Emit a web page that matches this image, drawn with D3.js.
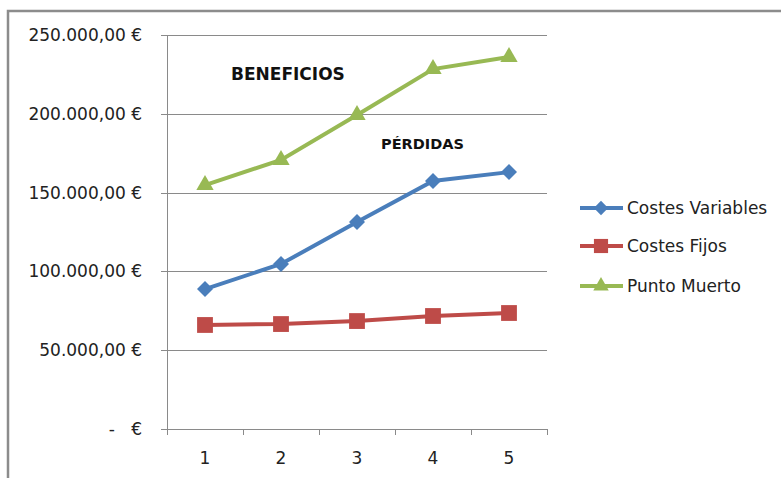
<!DOCTYPE html>
<html>
<head>
<meta charset="utf-8">
<script src="https://cdn.jsdelivr.net/npm/d3@7"></script>
<style>
  body { margin: 0; background: #fff; }
  svg { display: block; }
  text { white-space: pre; }
</style>
</head>
<body>
<svg></svg>
<script>
var periods = [1, 2, 3, 4, 5];
var costesVariables = [88800, 104700, 131300, 157400, 163000];
var costesFijos = [66000, 66600, 68500, 71700, 73600];
var puntoMuerto = [154800, 170700, 199200, 228400, 236000];
var yTicks = [0, 50000, 100000, 150000, 200000, 250000];

var svgWidth = 781,
    svgHeight = 478;

var plot = {left: 167, right: 547, top: 35, bottom: 429};

var svg = d3.select("svg")
    .attr("width", svgWidth)
    .attr("height", svgHeight);

var font = "DejaVu Sans, sans-serif";

// outer frame (only top and left show)
svg.append("path")
    .attr("d", "M8,478 V11 H781")
    .attr("fill", "none")
    .attr("stroke", "#8c8c8c")
    .attr("stroke-width", 2.5);

var xScale = d3.scaleBand()
    .domain(periods)
    .range([plot.left, plot.right]);

var yScale = d3.scaleLinear()
    .domain([0, 250000])
    .range([plot.bottom, plot.top]);

function euro(v) {
    if (v === 0) return "-   €";
    return d3.format(",.2f")(v).replace(/,/g, "#").replace(".", ",").replace(/#/g, ".") + " €";
}

// gridlines
svg.append("g")
    .selectAll("line")
    .data(yTicks)
    .enter()
    .append("line")
    .attr("x1", plot.left - 6)
    .attr("x2", plot.right)
    .attr("y1", function (d) { return Math.round(yScale(d)) + 0.5; })
    .attr("y2", function (d) { return Math.round(yScale(d)) + 0.5; })
    .attr("stroke", "#8a8a8a")
    .attr("stroke-width", 1);

// y axis line
svg.append("line")
    .attr("x1", plot.left + 0.5).attr("x2", plot.left + 0.5)
    .attr("y1", plot.top).attr("y2", plot.bottom + 6)
    .attr("stroke", "#8a8a8a");

// y labels
svg.append("g")
    .selectAll("text")
    .data(yTicks)
    .enter()
    .append("text")
    .attr("x", 142)
    .attr("y", function (d) { return yScale(d) + 6; })
    .attr("text-anchor", "end")
    .attr("font-family", font)
    .attr("font-size", 17)
    .attr("fill", "#222")
    .text(euro);

// x axis ticks
var xEdges = periods.map(function (p) { return xScale(p); }).concat([plot.right]);
svg.append("g")
    .selectAll("line")
    .data(xEdges)
    .enter()
    .append("line")
    .attr("x1", function (d) { return Math.round(d) + 0.5; })
    .attr("x2", function (d) { return Math.round(d) + 0.5; })
    .attr("y1", plot.bottom)
    .attr("y2", plot.bottom + 6)
    .attr("stroke", "#8a8a8a");

svg.append("g")
    .selectAll("text")
    .data(periods)
    .enter()
    .append("text")
    .attr("x", function (d) { return xScale(d) + xScale.bandwidth() / 2; })
    .attr("y", 464)
    .attr("text-anchor", "middle")
    .attr("font-family", font)
    .attr("font-size", 17)
    .attr("fill", "#222")
    .text(function (d) { return d; });

var series = [
    {name: "Costes Variables", values: costesVariables, color: "#4a7ebb", symbol: d3.symbolSquare, size: 128, rotate: 45},
    {name: "Costes Fijos", values: costesFijos, color: "#be4b48", symbol: d3.symbolSquare, size: 250, rotate: 0},
    {name: "Punto Muerto", values: puntoMuerto, color: "#98b954", symbol: d3.symbolTriangle, size: 130, rotate: 0}
];

var line = d3.line()
    .x(function (d, i) { return xScale(periods[i]) + xScale.bandwidth() / 2; })
    .y(function (d) { return yScale(d); });

series.forEach(function (s) {
    svg.append("path")
        .datum(s.values)
        .attr("d", line)
        .attr("fill", "none")
        .attr("stroke", s.color)
        .attr("stroke-width", 4);

    svg.append("g")
        .selectAll("path")
        .data(s.values)
        .enter()
        .append("path")
        .attr("d", d3.symbol().type(s.symbol).size(s.size))
        .attr("transform", function (d, i) {
            return "translate(" + (xScale(periods[i]) + xScale.bandwidth() / 2) + "," + yScale(d) + ") rotate(" + s.rotate + ")";
        })
        .attr("fill", s.color);
});

// annotations
svg.append("text")
    .attr("x", 231).attr("y", 80)
    .attr("font-family", font)
    .attr("font-weight", "bold")
    .attr("font-size", 17)
    .attr("fill", "#111")
    .text("BENEFICIOS");

svg.append("text")
    .attr("x", 381).attr("y", 149)
    .attr("font-family", font)
    .attr("font-weight", "bold")
    .attr("font-size", 14.5)
    .attr("fill", "#111")
    .text("PÉRDIDAS");

// legend
var legendY = [208, 246, 286];
var legend = svg.append("g")
    .selectAll("g")
    .data(series)
    .enter()
    .append("g")
    .attr("transform", function (d, i) { return "translate(580," + legendY[i] + ")"; });

legend.append("line")
    .attr("x1", 0).attr("x2", 43)
    .attr("stroke", function (d) { return d.color; })
    .attr("stroke-width", 4);

legend.append("path")
    .attr("d", function (d) { return d3.symbol().type(d.symbol).size(d.size * 0.8)(); })
    .attr("transform", function (d) { return "translate(21,0) rotate(" + d.rotate + ")"; })
    .attr("fill", function (d) { return d.color; });

legend.append("text")
    .attr("x", 47)
    .attr("y", 6)
    .attr("font-family", font)
    .attr("font-size", 17)
    .attr("fill", "#222")
    .text(function (d) { return d.name; });
</script>
</body>
</html>
